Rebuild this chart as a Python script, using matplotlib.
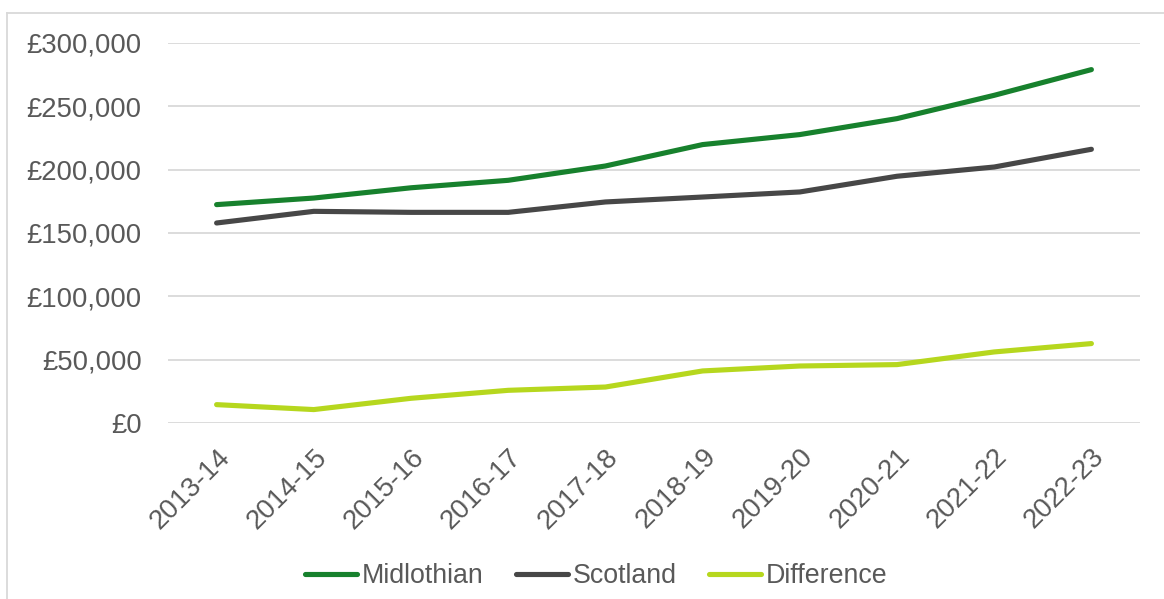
import numpy as np
import matplotlib.pyplot as plt
from matplotlib.lines import Line2D
from matplotlib.ticker import FuncFormatter

plt.rcParams['font.family'] = ['Liberation Sans', 'DejaVu Sans']

years = ["2013-14", "2014-15", "2015-16", "2016-17", "2017-18",
         "2018-19", "2019-20", "2020-21", "2021-22", "2022-23"]
midlothian = [172400, 177600, 185700, 191600, 202900, 219800, 227700, 240300, 258700, 279000]
scotland = [157900, 167100, 166300, 166300, 174500, 178400, 182400, 194800, 202100, 216100]
difference = [14500, 10600, 19500, 25800, 28400, 41100, 45000, 46100, 56100, 62700]

txt = "#595959"
W, H = 1164, 599
fig = plt.figure(figsize=(W/100, H/100), dpi=100)
ax = fig.add_axes([168/W, 1-423/H, (1140-168)/W, (423-43)/H])

x = np.arange(len(years))
ax.plot(x, midlothian, color="#17812d", lw=3.7, solid_capstyle="round", label="Midlothian")
ax.plot(x, scotland, color="#474747", lw=3.7, solid_capstyle="round", label="Scotland")
ax.plot(x, difference, color="#b6d71e", lw=3.7, solid_capstyle="round", label="Difference")

ax.set_xlim(-0.5, len(years)-0.5)
ax.set_ylim(0, 300000)
ax.set_yticks(np.arange(0, 300001, 50000))
ax.yaxis.set_major_formatter(FuncFormatter(lambda v, p: "£{:,.0f}".format(v)))
ax.set_xticks(x)
ax.set_xticklabels(years, rotation=45, ha="right", rotation_mode="anchor")
ax.grid(axis="y", color="#d9d9d9", lw=1.3)
ax.set_axisbelow(True)
for s in ax.spines.values():
    s.set_visible(False)
ax.tick_params(axis="both", length=0, labelsize=19.8, labelcolor=txt)
ax.tick_params(axis="y", pad=19)
ax.tick_params(axis="x", pad=15)

fig.legend(loc="center", bbox_to_anchor=(596/W, 1-576/H), ncol=3, frameon=False,
           fontsize=19.3, labelcolor=txt, handlelength=1.95, handletextpad=0.18,
           columnspacing=1.2)

# chart border (only left and top show)
fig.add_artist(Line2D([7/W, 7/W], [0, 1-13/H], color="#d9d9d9", lw=1.3))
fig.add_artist(Line2D([7/W, 1], [1-13/H, 1-13/H], color="#d9d9d9", lw=1.3))

fig.savefig("out.png", dpi=100)
